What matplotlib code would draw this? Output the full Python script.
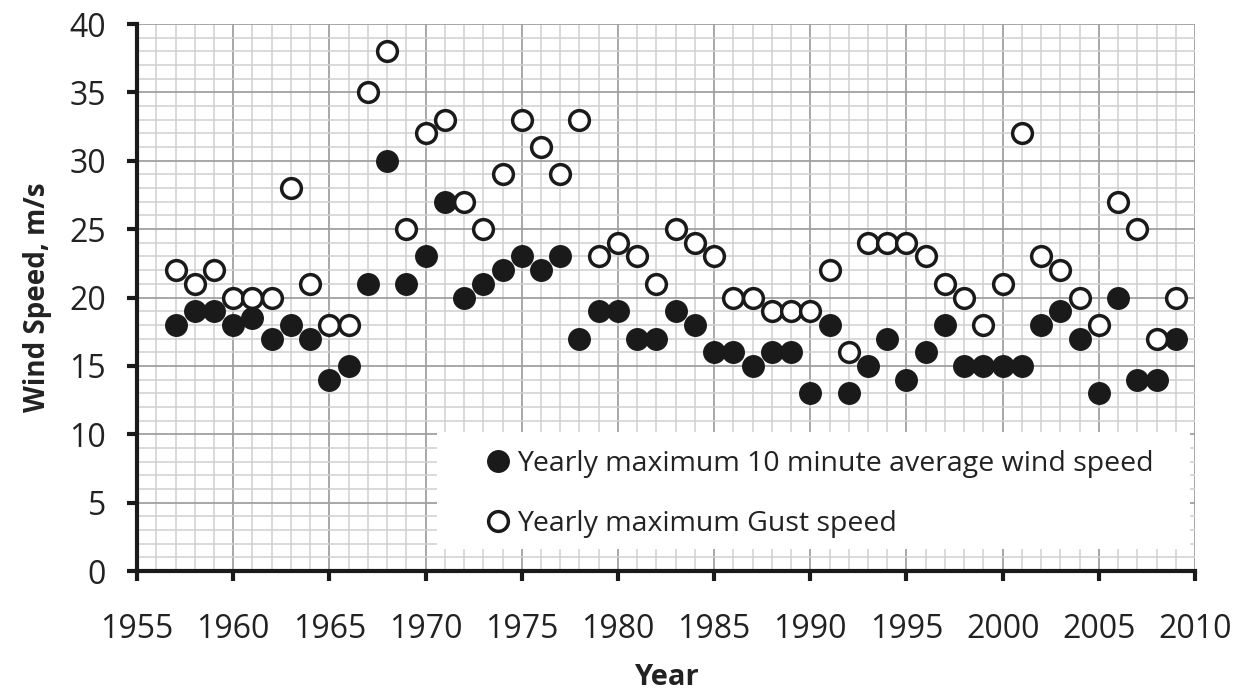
import matplotlib
matplotlib.use("Agg")
import matplotlib.pyplot as plt
from matplotlib.ticker import MultipleLocator
from matplotlib.patches import Rectangle

years = list(range(1957, 2010))
avg_speed = [18, 19, 19, 18, 18.5, 17, 18, 17, 14, 15,
             21, 30, 21, 23, 27, 20, 21, 22, 23, 22,
             23, 17, 19, 19, 17, 17, 19, 18, 16, 16,
             15, 16, 16, 13, 18, 13, 15, 17, 14, 16,
             18, 15, 15, 15, 15, 18, 19, 17, 13, 20,
             14, 14, 17]
gust_speed = [22, 21, 22, 20, 20, 20, 28, 21, 18, 18,
              35, 38, 25, 32, 33, 27, 25, 29, 33, 31,
              29, 33, 23, 24, 23, 21, 25, 24, 23, 20,
              20, 19, 19, 19, 22, 16, 24, 24, 24, 23,
              21, 20, 18, 21, 32, 23, 22, 20, 18, 27,
              25, 17, 20]
x_ticks = [1955, 1960, 1965, 1970, 1975, 1980, 1985, 1990, 1995, 2000, 2005, 2010]
y_ticks = [0, 5, 10, 15, 20, 25, 30, 35, 40]
label_avg = "Yearly maximum 10 minute average wind speed"
label_gust = "Yearly maximum Gust speed"

plt.rcParams['font.family'] = ['Open Sans', 'DejaVu Sans']

fig = plt.figure(figsize=(12.38, 6.94), dpi=100)
ax = fig.add_axes([0.1107, 0.1772, 0.8546, 0.7882])

ax.set_xlim(1955, 2010)
ax.set_ylim(0, 40)
ax.set_xticks(x_ticks)
ax.set_yticks(y_ticks)
ax.xaxis.set_minor_locator(MultipleLocator(1))
ax.yaxis.set_minor_locator(MultipleLocator(1))

ax.grid(which='minor', color='#cfcfcf', linewidth=1.1, zorder=0)
ax.grid(which='major', color='#a0a0a0', linewidth=1.3, zorder=0)
ax.set_axisbelow(True)

for s in ['top', 'right']:
    ax.spines[s].set_visible(False)
for s in ['left', 'bottom']:
    ax.spines[s].set_linewidth(3.0)
    ax.spines[s].set_color('#1a1a1a')

ax.tick_params(which='major', direction='out', length=7.5, width=3.0,
               color='#1a1a1a', labelsize=23, labelcolor='#222222')
ax.tick_params(axis='y', which='major', pad=15)
ax.tick_params(axis='x', which='major', pad=23)
ax.tick_params(which='minor', length=0)

# legend background box
ax.add_patch(Rectangle((0.2836, 0.0402), 0.712, 0.214, transform=ax.transAxes,
                       facecolor='white', edgecolor='none', zorder=1))

h1, = ax.plot(years, avg_speed, linestyle='none', marker='o', markersize=15.5,
              markerfacecolor='#1a1a1a', markeredgecolor='#1a1a1a', zorder=3,
              label=label_avg)
h2, = ax.plot(years, gust_speed, linestyle='none', marker='o', markersize=14.2,
              markerfacecolor='white', markeredgecolor='#1a1a1a',
              markeredgewidth=2.5, zorder=3, label=label_gust)

leg = ax.legend(handles=[h1, h2], loc='upper left',
                bbox_to_anchor=(0.330, 0.222), frameon=False,
                fontsize=20.5, handlelength=0.8, handletextpad=0.3,
                labelspacing=1.15, borderpad=0, borderaxespad=0,
                markerscale=1.0)
for t in leg.get_texts():
    t.set_color('#222222')

ax.set_xlabel('Year', fontsize=21, fontweight='bold', color='#222222', labelpad=12)
ax.set_ylabel('Wind Speed, m/s', fontsize=20, fontweight='bold', color='#222222', labelpad=12)

fig.savefig('out.png', dpi=100)
